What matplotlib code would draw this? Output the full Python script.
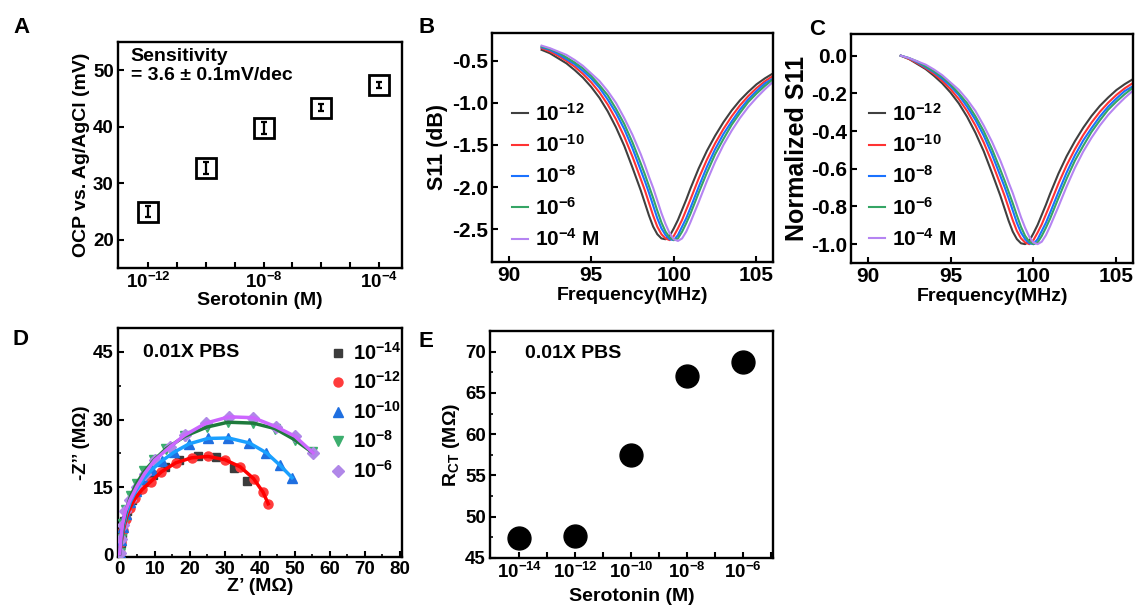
import numpy as np
import matplotlib
matplotlib.use('Agg')
import matplotlib.pyplot as plt
from matplotlib.ticker import MultipleLocator

plt.rcParams['font.family'] = ['Liberation Sans', 'DejaVu Sans']
plt.rcParams['font.weight'] = 'bold'
plt.rcParams['axes.labelweight'] = 'bold'
plt.rcParams['axes.unicode_minus'] = False
plt.rcParams['mathtext.fontset'] = 'custom'
plt.rcParams['mathtext.rm'] = 'Liberation Sans:bold'
plt.rcParams['mathtext.it'] = 'Liberation Sans:bold:italic'
plt.rcParams['mathtext.bf'] = 'Liberation Sans:bold'
plt.rcParams['mathtext.default'] = 'rm'
plt.rcParams['axes.linewidth'] = 1.7
plt.rcParams['xtick.direction'] = 'in'
plt.rcParams['ytick.direction'] = 'in'
plt.rcParams['xtick.major.size'] = 4
plt.rcParams['ytick.major.size'] = 4
plt.rcParams['xtick.minor.size'] = 2.5
plt.rcParams['ytick.minor.size'] = 2.5
plt.rcParams['xtick.major.width'] = 1.5
plt.rcParams['ytick.major.width'] = 1.5
plt.rcParams['xtick.minor.width'] = 1.2
plt.rcParams['ytick.minor.width'] = 1.2

# ---------------- data ----------------
# Panel A
conc_A = [1e-12, 1e-10, 1e-8, 1e-6, 1e-4]
ocp_A = [25.0, 32.7, 39.8, 43.4, 47.4]
ocp_err_A = [1.0, 1.0, 1.0, 0.7, 0.5]

# Panel B (S11 in dB)
freq_B = [92, 92.5, 93, 93.5, 94, 94.5, 95, 95.5, 96, 96.5, 97, 97.5, 98, 98.25,
          98.5, 98.75, 99, 99.25, 99.5, 99.75, 100, 100.25, 100.5, 100.75, 101,
          101.5, 102, 102.5, 103, 103.5, 104, 104.5, 105, 105.5, 106]
s11_m12 = [-0.37, -0.41, -0.47, -0.53, -0.61, -0.70, -0.81, -0.94, -1.10, -1.29,
           -1.51, -1.77, -2.04, -2.19, -2.34, -2.47, -2.56, -2.61, -2.62, -2.58,
           -2.49, -2.39, -2.27, -2.15, -2.02, -1.78, -1.57, -1.39, -1.23, -1.09,
           -0.97, -0.87, -0.78, -0.71, -0.65]
s11_m10 = [-0.35, -0.39, -0.44, -0.50, -0.57, -0.655, -0.755, -0.875, -1.02, -1.195,
           -1.40, -1.64, -1.905, -2.04, -2.19, -2.34, -2.47, -2.56, -2.61, -2.63,
           -2.58, -2.49, -2.39, -2.27, -2.15, -1.90, -1.675, -1.48, -1.31, -1.16,
           -1.03, -0.92, -0.825, -0.745, -0.68]
s11_m8 = [-0.34, -0.37, -0.42, -0.48, -0.54, -0.62, -0.71, -0.82, -0.96, -1.12,
          -1.31, -1.54, -1.80, -1.93, -2.07, -2.22, -2.37, -2.49, -2.57, -2.62,
          -2.63, -2.57, -2.47, -2.37, -2.25, -2.00, -1.76, -1.55, -1.37, -1.22,
          -1.08, -0.96, -0.86, -0.77, -0.71]
s11_m6 = [-0.33, -0.36, -0.40, -0.46, -0.52, -0.59, -0.68, -0.79, -0.91, -1.07,
          -1.25, -1.47, -1.72, -1.85, -1.99, -2.13, -2.28, -2.42, -2.53, -2.60,
          -2.63, -2.61, -2.53, -2.43, -2.32, -2.07, -1.83, -1.61, -1.43, -1.26,
          -1.12, -0.99, -0.89, -0.80, -0.72]
s11_m4 = [-0.32, -0.35, -0.39, -0.43, -0.49, -0.56, -0.65, -0.74, -0.86, -1.00,
          -1.18, -1.38, -1.61, -1.74, -1.88, -2.01, -2.16, -2.31, -2.44, -2.55,
          -2.62, -2.64, -2.61, -2.53, -2.42, -2.18, -1.93, -1.70, -1.50, -1.33,
          -1.18, -1.05, -0.94, -0.84, -0.75]
labels_B = [r'$10^{-12}$', r'$10^{-10}$', r'$10^{-8}$', r'$10^{-6}$', r'$10^{-4}$ M']

# Panel D (Nyquist)
zre_m14 = [0.0, 0.3, 0.7, 1.3, 2.2, 3.4, 5.0, 7.0, 9.5, 12.8, 17.0, 22.4, 27.6, 32.6, 36.4]
zim_m14 = [0.2, 2.5, 4.8, 7.4, 9.8, 12.1, 14.3, 16.1, 17.8, 19.4, 21.0, 21.9, 21.6, 19.3, 16.4]
zre_m12 = [0.0, 0.4, 1.0, 1.8, 2.9, 4.4, 6.4, 8.8, 11.9, 16.0, 20.5, 25.2, 30.0, 34.4, 38.2, 40.9, 42.4]
zim_m12 = [0.3, 2.8, 5.4, 8.0, 10.4, 12.5, 14.5, 16.2, 18.4, 20.4, 21.5, 21.8, 21.1, 19.5, 16.9, 13.9, 11.3]
zre_m10 = [0.0, 0.4, 1.0, 1.9, 3.0, 4.6, 6.7, 9.2, 12.0, 15.4, 19.8, 25.2, 31.0, 37.0, 41.9, 45.7, 49.2]
zim_m10 = [0.3, 3.2, 6.2, 9.1, 11.7, 14.2, 16.7, 18.9, 20.8, 22.7, 24.6, 25.8, 25.9, 24.8, 22.6, 19.9, 17.1]
zre_m8 = [0.0, 0.4, 1.0, 1.9, 3.1, 4.8, 7.0, 9.8, 13.2, 18.6, 24.8, 30.9, 38.1, 44.3, 50.0, 54.8]
zim_m8 = [0.3, 3.5, 6.8, 10.0, 13.0, 15.8, 18.5, 21.0, 23.5, 26.3, 28.3, 29.4, 29.2, 28.0, 25.5, 22.8]
zre_m6 = [0.0, 0.3, 0.8, 1.6, 2.9, 4.8, 7.1, 10.0, 14.3, 18.5, 24.6, 31.2, 38.1, 44.6, 50.0, 55.2]
zim_m6 = [0.3, 3.5, 6.7, 9.6, 12.1, 15.0, 18.0, 21.0, 23.9, 26.5, 29.2, 30.6, 30.4, 28.4, 26.3, 22.6]
labels_D = [r'$10^{-14}$', r'$10^{-12}$', r'$10^{-10}$', r'$10^{-8}$', r'$10^{-6}$']

# Panel E
conc_E = [1e-14, 1e-12, 1e-10, 1e-8, 1e-6]
rct_E = [47.4, 47.7, 57.5, 67.1, 68.7]

# ---------------- figure ----------------
W, H = 1136, 607
fig = plt.figure(figsize=(W / 100, H / 100), dpi=100)


def ax_px(l, t, r, b):
    return fig.add_axes([l / W, 1 - b / H, (r - l) / W, (b - t) / H])


FS = 14
TFS = 13.5
line_cols = ['#404040', '#ff3333', '#1a72ff', '#35a565', '#b584f2']

# ---- A ----
axA = ax_px(118, 42, 402, 268)
axA.errorbar(conc_A, ocp_A, yerr=ocp_err_A, fmt='none', ecolor='k',
             elinewidth=1.6, capsize=2.5, capthick=1.6, zorder=2)
axA.plot(conc_A, ocp_A, 's', ms=14.5, mfc='none', mec='k', mew=2.0, zorder=3)
axA.set_xscale('log')
axA.set_xlim(10 ** -13.05, 10 ** -3.2)
axA.set_ylim(15, 55)
decA = [10.0 ** e for e in range(-12, -3)]
axA.set_xticks(decA)
axA.set_xticklabels([r'$10^{-12}$' if e == -12 else r'$10^{-8}$' if e == -8 else
                     r'$10^{-4}$' if e == -4 else '' for e in range(-12, -3)])
axA.xaxis.set_minor_locator(plt.NullLocator())
axA.set_yticks([20, 30, 40, 50])
axA.set_xlabel('Serotonin (M)', fontsize=FS, labelpad=0)
axA.set_ylabel('OCP vs. Ag/AgCl (mV)', fontsize=FS, labelpad=2)
axA.text(0.045, 0.975, 'Sensitivity\n= 3.6 ± 0.1mV/dec', transform=axA.transAxes,
         ha='left', va='top', fontsize=FS, linespacing=1.15)
axA.tick_params(which='both', labelsize=TFS, pad=3)

# ---- B ----
series_B = [s11_m12, s11_m10, s11_m8, s11_m6, s11_m4]
axB = ax_px(492, 33, 773, 262)
for s, c, lab in zip(series_B, line_cols, labels_B):
    axB.plot(freq_B, s, color=c, lw=1.5, label=lab)
axB.set_xlim(89, 106)
axB.set_ylim(-2.89, -0.17)
axB.set_xticks([90, 95, 100, 105])
axB.set_yticks([-2.5, -2.0, -1.5, -1.0, -0.5])
axB.tick_params(which='both', labelsize=15, pad=3)
axB.set_xlabel('Frequency(MHz)', fontsize=FS, labelpad=1)
axB.set_ylabel('S11 (dB)', fontsize=15.5, labelpad=3)
axB.legend(loc='upper left', bbox_to_anchor=(0.07, 0.695), frameon=False,
           fontsize=15, handlelength=0.8, handletextpad=0.3, labelspacing=0.45,
           borderpad=0, borderaxespad=0)

# ---- C (normalised S11) ----
axC = ax_px(851, 34, 1133, 263)
for s, c, lab in zip(series_B, line_cols, labels_B):
    arr = np.array(s)
    norm = (arr - arr[0]) / (arr[0] - arr.min())
    axC.plot(freq_B, norm, color=c, lw=1.5, label=lab)
axC.set_xlim(89, 106)
axC.set_ylim(-1.1, 0.115)
axC.set_xticks([90, 95, 100, 105])
axC.set_yticks([-1.0, -0.8, -0.6, -0.4, -0.2, 0.0])
axC.tick_params(which='both', labelsize=15, pad=3)
axC.set_xlabel('Frequency(MHz)', fontsize=FS, labelpad=1)
axC.set_ylabel('Normalized S11', fontsize=18, labelpad=1)
axC.legend(loc='upper left', bbox_to_anchor=(0.063, 0.70), frameon=False,
           fontsize=15, handlelength=0.8, handletextpad=0.3, labelspacing=0.45,
           borderpad=0, borderaxespad=0)

# ---- D ----
axD = ax_px(118, 328, 402, 557)
mk_cols = ['#3c3c3c', '#ff3b3b', '#1f6fe0', '#3cae6e', '#b087e8']
fit_cols = [None, '#ff0000', '#1aa0ff', '#1e7a3c', '#cc66ff']
markers = ['s', 'o', '^', 'v', 'D']
msz = [5.5, 6.5, 6.5, 6.5, 6]
dsets = [(zre_m14, zim_m14), (zre_m12, zim_m12), (zre_m10, zim_m10),
         (zre_m8, zim_m8), (zre_m6, zim_m6)]
for (x, y), mc, mk, ms, lab in zip(dsets, mk_cols, markers, msz, labels_D):
    axD.plot(x, y, linestyle='none', marker=mk, ms=ms, color=mc, mec=mc, label=lab, zorder=3)
for (x, y), fc in zip(dsets, fit_cols):
    if fc is not None:
        axD.plot(x, y, '-', color=fc, lw=2.5, zorder=4)
axD.set_xlim(-0.5, 80.6)
axD.set_ylim(-0.5, 50.3)
axD.set_xticks(range(0, 81, 10))
axD.xaxis.set_minor_locator(MultipleLocator(5))
axD.set_yticks([0, 15, 30, 45])
axD.yaxis.set_minor_locator(MultipleLocator(7.5))
axD.tick_params(which='both', top=False, right=False, labelsize=TFS, pad=3)
axD.set_xlabel('Z’ (MΩ)', fontsize=FS, labelpad=0)
axD.set_ylabel('-Z’’ (MΩ)', fontsize=13.5, labelpad=2)
axD.text(0.088, 0.895, '0.01X PBS', transform=axD.transAxes, ha='left', va='center', fontsize=FS)
axD.legend(loc='upper left', bbox_to_anchor=(0.745, 0.94), frameon=False,
           fontsize=14.5, handlelength=0.8, handletextpad=0.35, labelspacing=0.38,
           borderpad=0, borderaxespad=0)

# ---- E ----
axE = ax_px(490, 331, 773, 558)
axE.plot(conc_E, rct_E, 'o', ms=16.5, color='k')
axE.set_xscale('log')
axE.set_xlim(10 ** -15.05, 10 ** -4.92)
axE.set_ylim(45, 72.5)
decE = list(range(-14, -4))
axE.set_xticks([10.0 ** e for e in decE])
axE.set_xticklabels([r'$10^{%d}$' % e if e % 2 == 0 and e <= -6 else '' for e in decE])
axE.xaxis.set_minor_locator(plt.NullLocator())
axE.set_yticks([45, 50, 55, 60, 65, 70])
axE.yaxis.set_minor_locator(MultipleLocator(2.5))
axE.tick_params(which='both', labelsize=TFS, pad=3)
axE.set_xlabel('Serotonin (M)', fontsize=FS, labelpad=4)
axE.set_ylabel(r'R$_{\mathrm{CT}}$ (MΩ)', fontsize=FS, labelpad=2)
axE.text(0.124, 0.903, '0.01X PBS', transform=axE.transAxes, ha='left', va='center', fontsize=FS)

for ax in [axA, axB, axC, axD, axE]:
    for lbl in ax.get_xticklabels() + ax.get_yticklabels():
        lbl.set_fontweight('bold')

# panel letters
for letter, x, y in [('A', 13, 33), ('B', 419, 33), ('C', 809, 35), ('D', 12, 345), ('E', 419, 347)]:
    fig.text(x / W, 1 - y / H, letter, fontsize=16, fontweight='bold', ha='left', va='baseline')

fig.savefig('out.png', dpi=100)
